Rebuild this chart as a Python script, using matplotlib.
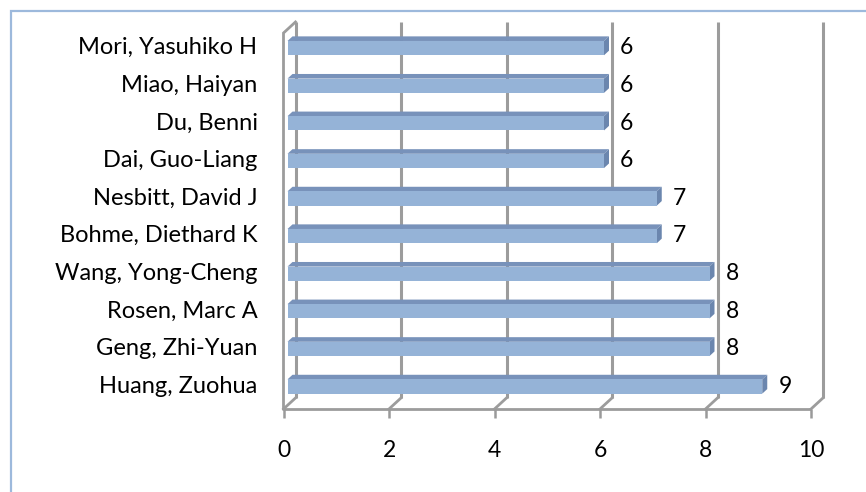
import matplotlib
matplotlib.use("Agg")
import matplotlib.pyplot as plt
from matplotlib.patches import Polygon, Rectangle
from matplotlib.transforms import ScaledTranslation

# Data (bottom to top)
authors = ["Huang, Zuohua", "Geng, Zhi-Yuan", "Rosen, Marc A", "Wang, Yong-Cheng",
           "Bohme, Diethard K", "Nesbitt, David J", "Dai, Guo-Liang", "Du, Benni",
           "Miao, Haiyan", "Mori, Yasuhiko H"]
counts = [9, 8, 8, 8, 7, 7, 6, 6, 6, 6]
x_ticks = [0, 2, 4, 6, 8, 10]

W, H, DPI = 866, 492, 100
fig = plt.figure(figsize=(W / DPI, H / DPI), dpi=DPI)
fig.patch.set_facecolor("white")
plt.rcParams["font.family"] = ["Lato", "DejaVu Sans"]

# Chart area frame
fig.add_artist(Rectangle((11 / W, -0.1), 1.2, 1 - 11 / H + 0.1, transform=fig.transFigure,
                         fill=False, edgecolor="#9DB9DC", linewidth=1.6))

# Front plane of the plot area, in pixels
L, R, B, T = 283.5, 811, 409, 33
ax = fig.add_axes([L / W, (H - B) / H, (R - L) / W, (B - T) / H])
ax.set_xlim(0, 10)
ax.set_ylim(-0.5, 9.5)
ax.set_facecolor("none")
for s in ax.spines.values():
    s.set_visible(False)
ax.set_yticks([])
ax.set_xticks(x_ticks)
ax.tick_params(axis="x", length=6.5, width=1.8, color="#9A9A9A", pad=16,
               labelsize=16.5, labelcolor="black")

p0 = ax.transData.transform((0, 0))
p1 = ax.transData.transform((1, 1))
ppx, ppy = p1 - p0


def depth(x, y, d):
    """Shift a data point d pixels into the depth direction (right and up)."""
    return (x + d / ppx, y + 0.92 * d / ppy)


def offset(dx, dy):
    return ax.transData + ScaledTranslation(dx / DPI, dy / DPI, fig.dpi_scale_trans)


GRID = "#9C9C9C"
DBACK = 12

# Back-wall gridlines
for k in x_ticks:
    xs, ys = zip(depth(k, -0.5, DBACK), depth(k, 9.5, DBACK))
    ax.plot(xs, ys, color=GRID, lw=2.2, solid_capstyle="butt", zorder=1, clip_on=False)

# Floor: front edge and depth lines
ax.plot([0, 10], [-0.5, -0.5], color=GRID, lw=2.0, zorder=1, solid_capstyle="butt",
        clip_on=False)
for k in x_ticks:
    xs, ys = zip((k, -0.5), depth(k, -0.5, DBACK))
    ax.plot(xs, ys, color=GRID, lw=2.0, zorder=1, clip_on=False)

# Left wall edge
wx, wy = zip((0, -0.5), (0, 9.5), depth(0, 9.5, DBACK))
ax.plot(wx, wy, color=GRID, lw=2.0, zorder=4, solid_joinstyle="miter", clip_on=False)

# 3D bars
h = 0.38
DF, DB = 4, 9
FRONT, TOP, SIDE = "#95B3D7", "#7892BA", "#6B86AE"
for i, v in enumerate(counts):
    y0, y1 = i - h / 2, i + h / 2
    top = [depth(0, y1, DF), depth(v, y1, DF), depth(v, y1, DB), depth(0, y1, DB)]
    side = [depth(v, y0, DF), depth(v, y1, DF), depth(v, y1, DB), depth(v, y0, DB)]
    fx, fy = depth(0, y0, DF)
    ax.add_patch(Polygon(top, closed=True, facecolor=TOP, edgecolor="none", zorder=3,
                         clip_on=False))
    ax.add_patch(Polygon(side, closed=True, facecolor=SIDE, edgecolor="none", zorder=3,
                         clip_on=False))
    ax.add_patch(Rectangle((fx, fy), v, h, facecolor=FRONT, edgecolor="none", zorder=3,
                           clip_on=False))
    ax.text(v, i, str(v), transform=offset(20, 4), ha="left", va="center",
            fontsize=16.5, color="black", zorder=5)

# Category labels
for i, name in enumerate(authors):
    ax.text(0, i, name, transform=offset(-26, 4), ha="right", va="center",
            fontsize=17, color="black")

fig.savefig("out.png", dpi=DPI, facecolor="white")
